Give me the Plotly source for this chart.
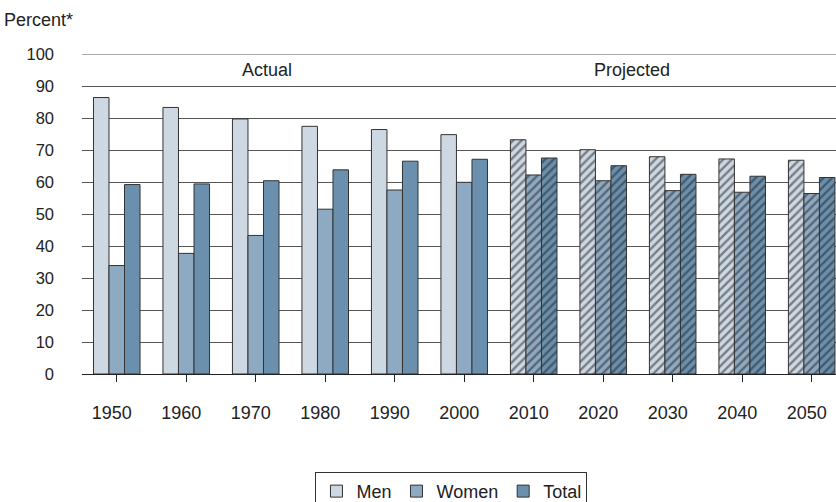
import plotly.graph_objects as go

years = ["1950", "1960", "1970", "1980", "1990", "2000", "2010", "2020", "2030", "2040", "2050"]
men = [86.4, 83.3, 79.7, 77.4, 76.4, 74.8, 73.2, 70.1, 67.9, 67.2, 66.8]
women = [33.9, 37.7, 43.3, 51.5, 57.5, 59.9, 62.2, 60.4, 57.3, 56.8, 56.4]
total = [59.2, 59.4, 60.4, 63.8, 66.5, 67.1, 67.5, 65.1, 62.4, 61.8, 61.4]
projected = [False] * 6 + [True] * 5
y_ticks = list(range(0, 101, 10))

colors = {"Men": "#cdd8e3", "Women": "#8eaac2", "Total": "#6a90ae"}
shapes_pattern = ["/" if p else "" for p in projected]

fig = go.Figure()
for name, vals in [("Men", men), ("Women", women), ("Total", total)]:
    fig.add_trace(go.Bar(
        x=list(range(len(years))), y=vals, name=name,
        marker=dict(color=colors[name], line=dict(color="#333333", width=1),
                    pattern=dict(shape=shapes_pattern, fgcolor="#222222", bgcolor=colors[name],
                                 size=6, solidity=0.4, fillmode="overlay")),
    ))

fig.add_annotation(x=2.16, y=95, xref="x", yref="y", text="Actual", showarrow=False,
                   font=dict(size=18, color="#222"))
fig.add_annotation(x=7.42, y=95, xref="x", yref="y", text="Projected", showarrow=False,
                   font=dict(size=18, color="#222"))
fig.add_annotation(x=-0.106, y=1.106, xref="paper", yref="paper", xanchor="left", yanchor="middle",
                   text="Percent*", showarrow=False, font=dict(size=18, color="#222"))
fig.add_shape(type="line", xref="paper", yref="y", x0=0, x1=1, y0=100, y1=100,
              line=dict(color="#555", width=1), layer="below")

fig.update_layout(
    width=836, height=502,
    margin=dict(l=82, r=0, t=54, b=128, autoexpand=False),
    paper_bgcolor="white", plot_bgcolor="white",
    font=dict(family="Liberation Sans, Arial, sans-serif", size=18, color="#222"),
    barmode="group", bargap=0.33, bargroupgap=0,
    legend=dict(orientation="h", x=0.49, y=-0.306, xanchor="center", yanchor="top",
                bordercolor="#333", borderwidth=1, font=dict(size=18),
                itemwidth=30, tracegroupgap=0),
    showlegend=True,
)
fig.update_xaxes(
    range=[-0.5, 10.35], tickmode="array",
    tickvals=list(range(len(years))), ticktext=years,
    showgrid=False, zeroline=False, showline=True, linecolor="#222", linewidth=1,
    ticks="outside", tickson="boundaries", ticklen=7, tickcolor="#222",
    ticklabelshift=-5, ticklabelstandoff=15, automargin=False,
    tickfont=dict(size=18),
)
fig.update_yaxes(
    range=[0, 100], tickvals=y_ticks, showgrid=True, gridcolor="#555", gridwidth=1,
    zeroline=False, showline=False, ticks="", ticklabelstandoff=27, automargin=False,
    tickfont=dict(size=16.5),
)
fig.write_html("out.html", config={"displayModeBar": False},
               post_script="document.body.style.margin='0';")
